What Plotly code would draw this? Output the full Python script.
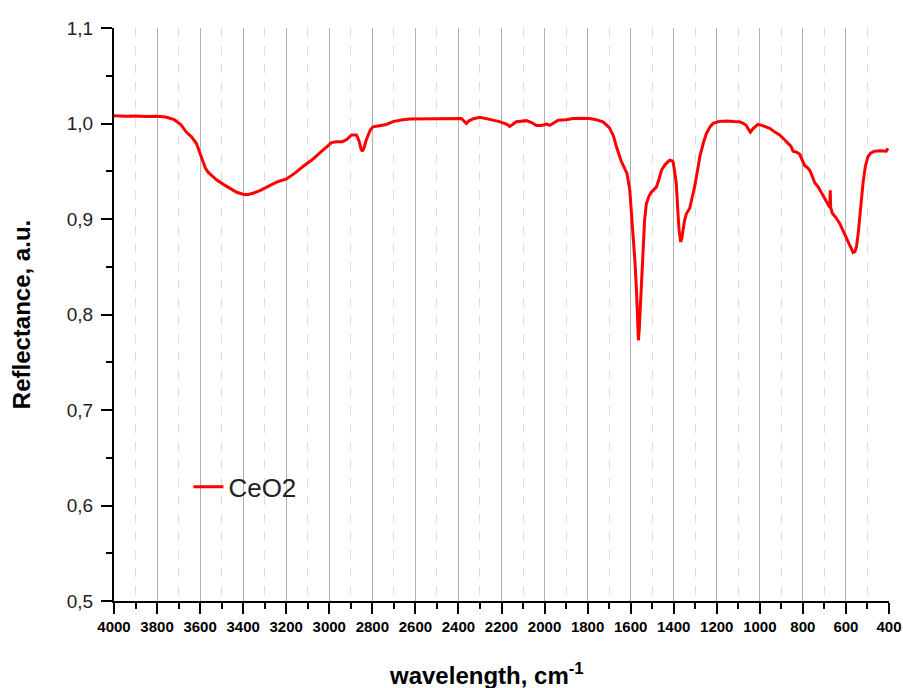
import plotly.graph_objects as go

wavenumber = [4000, 3950, 3900, 3850, 3800, 3760, 3720, 3690, 3664, 3640, 3617, 3594, 3575, 3563,
              3540, 3524, 3490, 3463, 3430, 3401, 3380, 3354, 3320, 3277, 3240, 3199, 3160, 3122,
              3080, 3045, 3010, 2990, 2965, 2940, 2920, 2897, 2874, 2862, 2852, 2846, 2838, 2828,
              2810, 2797, 2760, 2735, 2704, 2660, 2626, 2550, 2487, 2430, 2386, 2363, 2351, 2330,
              2301, 2255, 2210, 2177, 2162, 2131, 2084, 2060, 2038, 2015, 1991, 1976, 1937, 1900,
              1868, 1830, 1790, 1760, 1729, 1710, 1697, 1680, 1666, 1643, 1617, 1604, 1595, 1589,
              1580, 1573, 1567, 1564, 1560, 1555, 1549, 1543, 1535, 1527, 1515, 1504, 1490, 1480,
              1468, 1457, 1440, 1419, 1408, 1403, 1396, 1388, 1380, 1375, 1368, 1362, 1357, 1350,
              1341, 1326, 1315, 1303, 1290, 1279, 1262, 1248, 1230, 1217, 1190, 1155, 1120, 1094,
              1075, 1063, 1050, 1044, 1030, 1009, 990, 970, 954, 930, 908, 885, 869, 855, 846,
              830, 815, 800, 792, 780, 768, 755, 745, 730, 714, 700, 683, 675, 673, 671, 663,
              645, 629, 614, 598, 580, 567, 558, 551, 543, 536, 528, 521, 510, 498, 485, 467,
              440, 413, 405]
reflectance = [1.008, 1.0075, 1.0078, 1.0072, 1.0075, 1.0068, 1.004, 0.999, 0.991, 0.986, 0.979,
               0.965, 0.953, 0.949, 0.944, 0.941, 0.936, 0.932, 0.928, 0.926, 0.9255, 0.927, 0.930,
               0.935, 0.939, 0.942, 0.948, 0.955, 0.962, 0.969, 0.976, 0.980, 0.981, 0.981, 0.983,
               0.988, 0.988, 0.982, 0.973, 0.971, 0.975, 0.983, 0.993, 0.9965, 0.998, 0.999, 1.002,
               1.004, 1.0046, 1.005, 1.0053, 1.0055, 1.0053, 0.9999, 1.0028, 1.005, 1.0064, 1.0043,
               1.002, 0.9994, 0.997, 1.0018, 1.003, 1.001, 0.998, 0.998, 0.9994, 0.998, 1.0035,
               1.004, 1.0053, 1.0055, 1.0053, 1.004, 1.0018, 0.998, 0.995, 0.987, 0.9756, 0.960,
               0.9477, 0.930, 0.905, 0.888, 0.855, 0.825, 0.790, 0.773, 0.785, 0.808, 0.850, 0.878,
               0.900, 0.9162, 0.924, 0.928, 0.931, 0.9336, 0.942, 0.951, 0.957, 0.9616, 0.961,
               0.960, 0.950, 0.937, 0.905, 0.888, 0.876, 0.880, 0.888, 0.898, 0.9057, 0.911, 0.922,
               0.9336, 0.950, 0.965, 0.980, 0.9896, 0.997, 1.0001, 1.002, 1.0025, 1.002, 1.0018,
               1.000, 0.998, 0.993, 0.991, 0.995, 0.999, 0.998, 0.996, 0.995, 0.991, 0.988, 0.983,
               0.979, 0.976, 0.971, 0.970, 0.968, 0.961, 0.956, 0.954, 0.951, 0.944, 0.938, 0.934,
               0.928, 0.922, 0.916, 0.912, 0.930, 0.912, 0.906, 0.901, 0.8953, 0.888, 0.881, 0.872,
               0.865, 0.866, 0.871, 0.885, 0.902, 0.920, 0.937, 0.955, 0.965, 0.969, 0.971, 0.9715,
               0.971, 0.974]

x_major = list(range(400, 4001, 200))
x_minor = list(range(500, 4000, 200))
y_major = [0.5, 0.6, 0.7, 0.8, 0.9, 1.0, 1.1]
y_labels = ["0,5", "0,6", "0,7", "0,8", "0,9", "1,0", "1,1"]
y_minor = [0.55, 0.65, 0.75, 0.85, 0.95, 1.05]

FONT = "Liberation Sans, Arial, sans-serif"

fig = go.Figure()
fig.add_trace(go.Scatter(x=wavenumber, y=reflectance, mode="lines", name="CeO2",
                         line=dict(color="#ff0000", width=3)))

fig.update_layout(
    width=903, height=688,
    margin=dict(l=114, r=14, t=28, b=87),
    plot_bgcolor="white", paper_bgcolor="white",
    font=dict(family=FONT, color="black"),
    showlegend=True,
    legend=dict(x=0.096, y=0.199, xanchor="left", yanchor="middle",
                bgcolor="rgba(0,0,0,0)", font=dict(size=26, family=FONT, color="#222")),
    xaxis=dict(
        range=[4000, 400], tickmode="array", tickvals=x_major, automargin=False,
        ticks="outside", ticklen=11, tickwidth=2, tickcolor="black",
        showline=True, linecolor="black", linewidth=2,
        showgrid=True, gridcolor="#b0b0b0", gridwidth=1, zeroline=False,
        tickfont=dict(size=15, weight="bold", family=FONT, color="black"),
        minor=dict(tickmode="array", tickvals=x_minor, ticks="outside", ticklen=6,
                   tickwidth=2, tickcolor="black", showgrid=True,
                   gridcolor="#dcdcdc", griddash="dash", gridwidth=1),
    ),
    yaxis=dict(
        range=[0.5, 1.1], tickmode="array", tickvals=y_major, ticktext=y_labels,
        automargin=False, ticklabelstandoff=4,
        ticks="outside", ticklen=11, tickwidth=2, tickcolor="black",
        showline=True, linecolor="black", linewidth=2,
        showgrid=False, zeroline=False,
        tickfont=dict(size=19, family=FONT, color="#222"),
        title=dict(text="Reflectance, a.u.", standoff=29,
                   font=dict(size=24, weight="bold", family=FONT, color="black")),
        minor=dict(tickmode="array", tickvals=y_minor, ticks="outside", ticklen=6,
                   tickwidth=2, tickcolor="black", showgrid=False),
    ),
    annotations=[dict(text="wavelength, cm<sup>-1</sup>", xref="paper", yref="paper",
                      x=0.481, y=-0.127, xanchor="center", yanchor="middle", showarrow=False,
                      font=dict(size=24, weight="bold", family=FONT, color="black"))],
)

fig.write_html("out.html")
